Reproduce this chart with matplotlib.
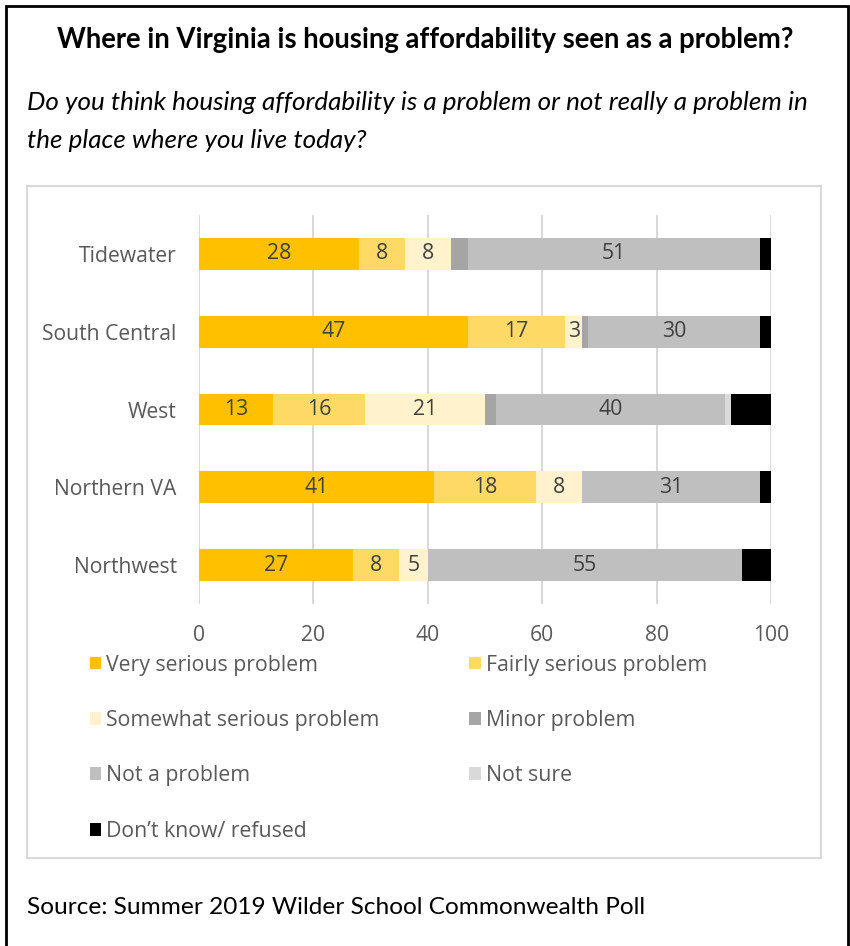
import matplotlib.pyplot as plt
from matplotlib.patches import Rectangle
import numpy as np

regions = ["Tidewater", "South Central", "West", "Northern VA", "Northwest"]
series = ["Very serious problem", "Fairly serious problem", "Somewhat serious problem",
          "Minor problem", "Not a problem", "Not sure", "Don\u2019t know/ refused"]
very = [28, 47, 13, 41, 27]
fairly = [8, 17, 16, 18, 8]
somewhat = [8, 3, 21, 8, 5]
minor = [3, 1, 2, 0, 0]
not_problem = [51, 30, 40, 31, 55]
not_sure = [0, 0, 1, 0, 0]
dont_know = [2, 2, 7, 2, 5]
xticks = [0, 20, 40, 60, 80, 100]

colors = ["#FFC000", "#FFD966", "#FFF2CC", "#A5A5A5", "#BFBFBF", "#D9D9D9", "#000000"]
labelled = [True, True, True, False, True, False, False]

W, H = 850, 946
fig = plt.figure(figsize=(W / 100, H / 100), dpi=100)

# frames
fig.patches.append(Rectangle((6 / W, -0.02), 842 / W, 1 - 6 / H + 0.02, transform=fig.transFigure,
                             fill=False, edgecolor="black", lw=2))
fig.patches.append(Rectangle((27 / W, 1 - 858 / H), 794 / W, 672 / H, transform=fig.transFigure,
                             fill=False, edgecolor="#D9D9D9", lw=1.5))

fig.text(0.5, 1 - 40 / H, "Where in Virginia is housing affordability seen as a problem?",
         ha="center", va="center", fontsize=19.8, fontweight="bold", family="Lato")
fig.text(27 / W, 1 - 103 / H, "Do you think housing affordability is a problem or not really a problem in",
         ha="left", va="center", fontsize=18.7, style="italic", family="Lato")
fig.text(27 / W, 1 - 141 / H, "the place where you live today?",
         ha="left", va="center", fontsize=18.7, style="italic", family="Lato")
fig.text(27 / W, 1 - 907 / H, "Source: Summer 2019 Wilder School Commonwealth Poll",
         ha="left", va="center", fontsize=17.6, family="Lato")

ax = fig.add_axes([199 / W, 1 - 604 / H, 572 / W, 389 / H])
data = [very, fairly, somewhat, minor, not_problem, not_sure, dont_know]
y = np.arange(len(regions))
left = np.zeros(len(regions))
handles = []
for name, vals, c, lab in zip(series, data, colors, labelled):
    vals = np.array(vals, dtype=float)
    bars = ax.barh(y, vals, left=left, height=0.41, color=c, label=name, zorder=3)
    handles.append(bars)
    if lab:
        ax.bar_label(bars, labels=[str(int(v)) if v > 0 else "" for v in vals],
                     label_type="center", color="#404040", fontsize=15.3, family="Open Sans")
    left += vals

ax.set_xlim(0, 100)
ax.set_ylim(len(regions) - 0.5, -0.5)
ax.set_xticks(xticks)
ax.set_yticks(y)
ax.set_yticklabels(regions)
ax.xaxis.grid(True, color="#D9D9D9", lw=1.5, zorder=0)
for s in ax.spines.values():
    s.set_visible(False)
ax.tick_params(axis="both", length=0, colors="#595959", labelsize=15.2)
ax.tick_params(axis="x", pad=15)
ax.tick_params(axis="y", pad=16)
for t in ax.get_xticklabels() + ax.get_yticklabels():
    t.set_family("Open Sans")

order = [0, 2, 4, 6, 1, 3, 5]
leg = fig.legend([handles[i] for i in order], [series[i] for i in order], ncol=2,
                 loc="upper left", bbox_to_anchor=(81 / W, 1 - 646 / H), frameon=False,
                 prop={"family": "Open Sans", "size": 15.3}, handlelength=0.55, handleheight=0.55,
                 handletextpad=0.25, labelspacing=1.62, columnspacing=4.2, borderaxespad=0)
for t in leg.get_texts():
    t.set_color("#595959")

fig.savefig("out.png", dpi=100)
